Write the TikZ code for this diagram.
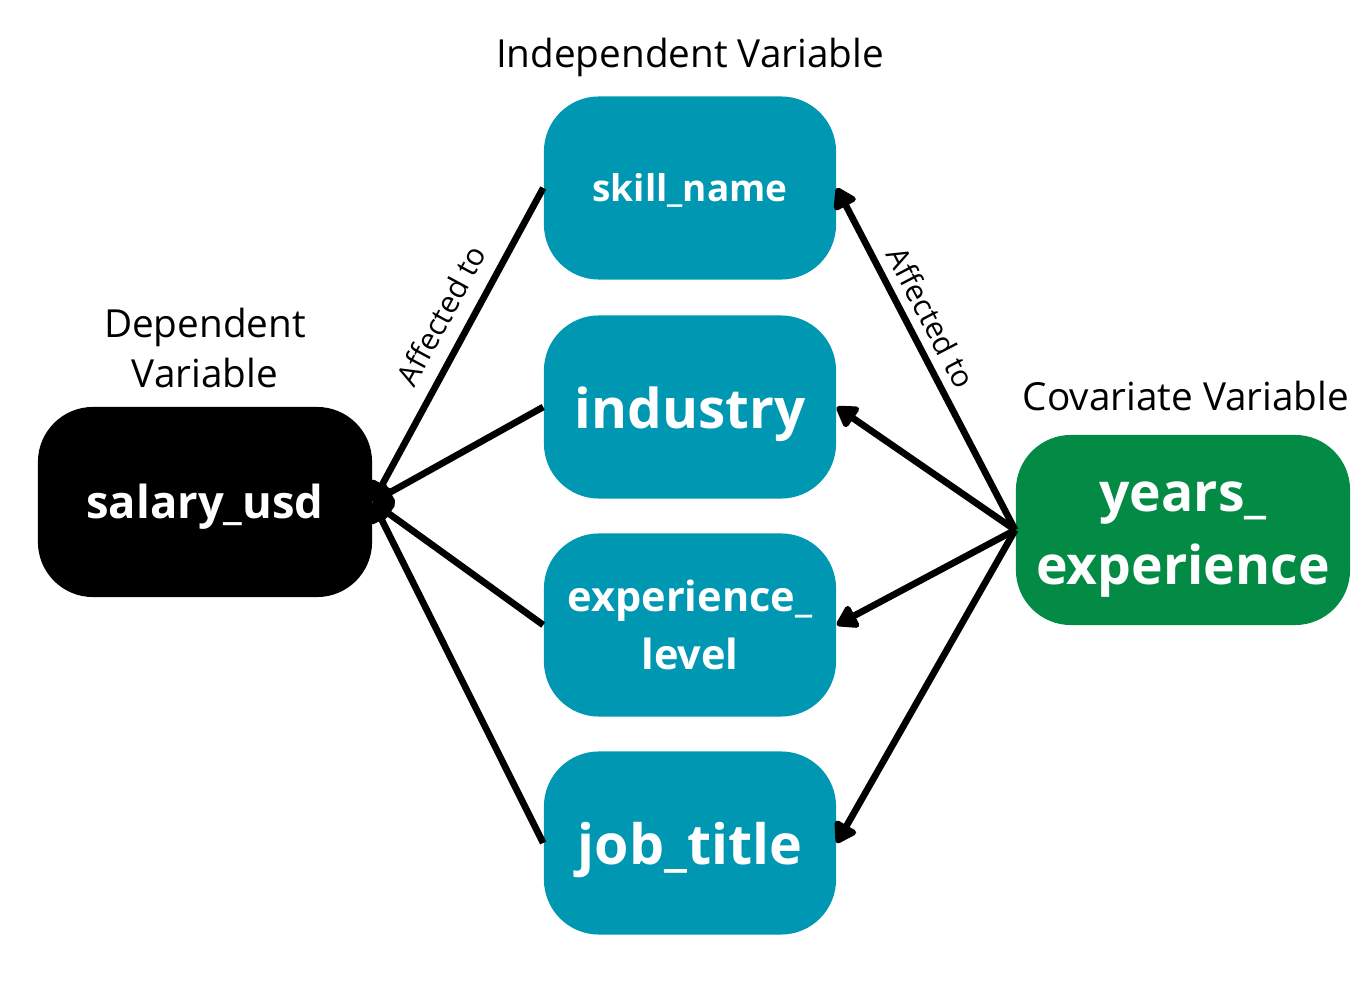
\documentclass[tikz,border=0pt]{standalone}
\usepackage{fontspec}
\setmainfont{Open Sans}
\usepackage{xcolor}
\usetikzlibrary{arrows.meta}

\definecolor{indepteal}{HTML}{0097B2}
\definecolor{covgreen}{HTML}{038B45}

% lower a line of text without changing its box
\newcommand{\lowerby}[2]{\raisebox{-#1}[\height][\depth]{#2}}

\begin{document}
\begin{tikzpicture}[
    x=0.01cm, y=-0.01cm,
    varbox/.style={
        rectangle,
        rounded corners=0.55cm,
        minimum width=2.92cm,
        minimum height=1.83cm,
        fill=indepteal,
        text=white,
        align=center,
        font=\bfseries,
        inner sep=0pt
    },
    link/.style={-{Triangle[length=2.3mm,width=2.7mm,round]}, line width=1.9pt, draw=black},
    lbl/.style={font=\fontsize{8.6}{10}\selectfont, inner sep=2pt},
    heading/.style={font=\fontsize{11}{14}\selectfont, align=center}
]
\useasboundingbox (0,0) rectangle (1365,985);

% =========================================================
% Variables
% =========================================================
\node[varbox, font=\bfseries\fontsize{10.5}{12}\selectfont] (skill) at (690,188) {\lowerby{0.6pt}{skill\_name}};
\node[varbox, font=\bfseries\fontsize{15.6}{18}\selectfont] (industry) at (690,407) {\lowerby{2pt}{industry}};
\node[varbox, font=\bfseries\fontsize{11.8}{16.5}\selectfont] (explevel) at (690,625) {experience\_\\level};
\node[varbox, font=\bfseries\fontsize{15.8}{18}\selectfont] (jobtitle) at (690,843) {\lowerby{2pt}{job\_title}};

\node[varbox, fill=black, minimum width=3.34cm, minimum height=1.9cm,
      font=\bfseries\fontsize{12.9}{15}\selectfont] (salary) at (205,502) {\lowerby{1.4pt}{salary\_usd}};
\node[varbox, fill=covgreen, minimum width=3.34cm, minimum height=1.9cm,
      font=\bfseries\fontsize{15.2}{20.8}\selectfont] (years) at (1183,530)
      {\lowerby{2.8pt}{years\_}\\\lowerby{2.8pt}{experience}};

% Headings
\node[heading] (indephead) at (690,57) {Independent Variable};
\node[heading] (dephead) at (205,348) {Dependent\\Variable};
\node[heading] (covhead) at (1186,396) {Covariate Variable};

% =========================================================
% Connectors
% =========================================================
\draw[link] (skill.west) -- node[lbl, pos=0.45, sloped, above=2pt] {Affected to} (salary.east);
\draw[link] (industry.west) -- (salary.east);
\draw[link] (explevel.west) -- (salary.east);
\draw[link] (jobtitle.west) -- (salary.east);

\draw[link] (years.west) -- node[lbl, pos=0.59, sloped, above=0.5pt] {Affected to} (skill.east);
\draw[link] (years.west) -- (industry.east);
\draw[link] (years.west) -- (explevel.east);
\draw[link] (years.west) -- (jobtitle.east);

\end{tikzpicture}
\end{document}
